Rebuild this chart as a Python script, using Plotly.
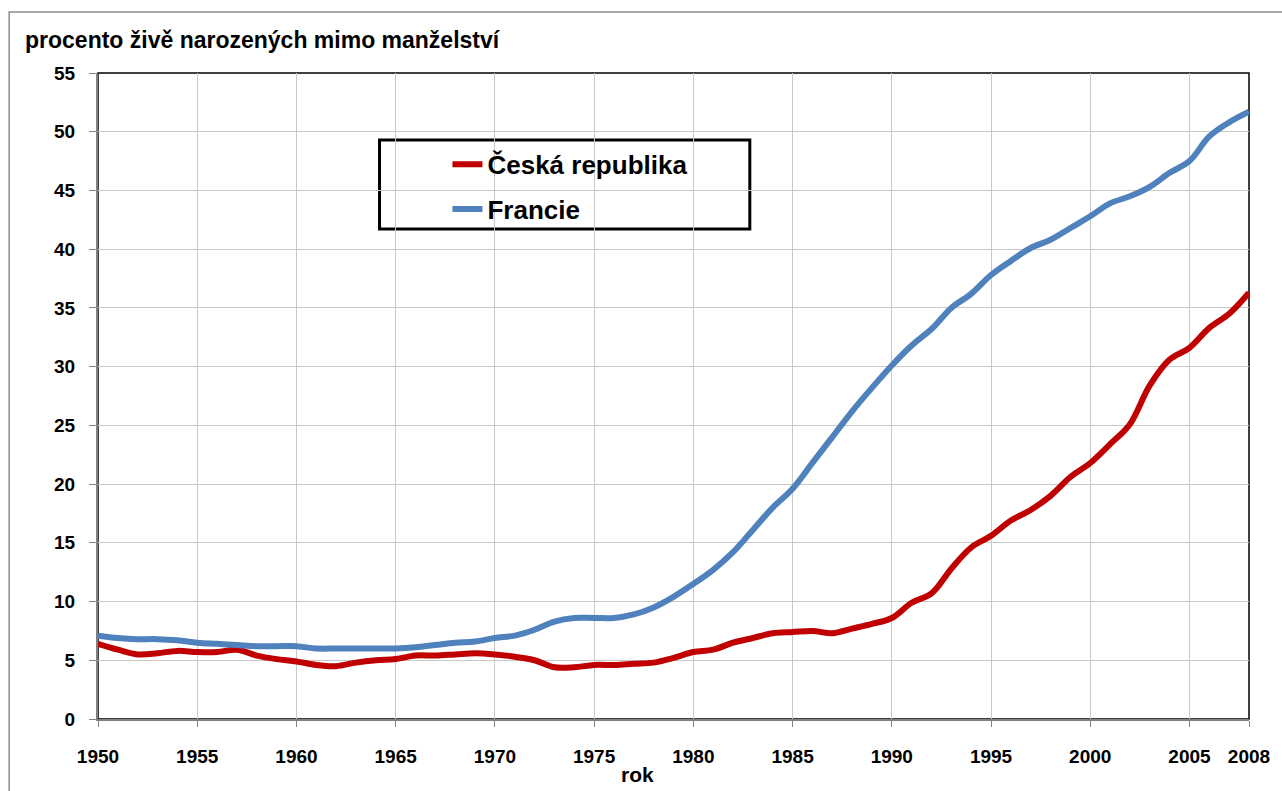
import plotly.graph_objects as go

font_family = "Arial, Liberation Sans, sans-serif"

roky = list(range(1950, 2009))
cesko = [6.4, 5.9, 5.5, 5.6, 5.8, 5.7, 5.7, 5.9, 5.4, 5.1,
         4.9, 4.6, 4.5, 4.8, 5.0, 5.1, 5.4, 5.4, 5.5, 5.6,
         5.5, 5.3, 5.0, 4.4, 4.4, 4.6, 4.6, 4.7, 4.8, 5.2,
         5.7, 5.9, 6.5, 6.9, 7.3, 7.4, 7.5, 7.3, 7.7, 8.1,
         8.6, 9.9, 10.7, 12.8, 14.6, 15.6, 16.9, 17.8, 19.0, 20.6,
         21.8, 23.4, 25.1, 28.4, 30.6, 31.6, 33.3, 34.5, 36.3]
francie = [7.1, 6.9, 6.8, 6.8, 6.7, 6.5, 6.4, 6.3, 6.2, 6.2,
           6.2, 6.0, 6.0, 6.0, 6.0, 6.0, 6.1, 6.3, 6.5, 6.6,
           6.9, 7.1, 7.6, 8.3, 8.6, 8.6, 8.6, 8.9, 9.5, 10.4,
           11.5, 12.7, 14.2, 16.1, 18.0, 19.6, 21.8, 24.0, 26.2, 28.2,
           30.1, 31.8, 33.2, 35.0, 36.2, 37.8, 39.0, 40.1, 40.8, 41.8,
           42.8, 43.9, 44.5, 45.3, 46.5, 47.5, 49.6, 50.8, 51.7]
x_ticks = [1950, 1955, 1960, 1965, 1970, 1975, 1980, 1985, 1990, 1995, 2000, 2005, 2008]

fig = go.Figure()
fig.add_trace(go.Scatter(x=roky, y=cesko, name="Česká republika", mode="lines",
                         line=dict(color="#C00000", width=6, shape="spline"),
                         legendgroup="cz"))
fig.add_trace(go.Scatter(x=roky, y=francie, name="Francie", mode="lines",
                         line=dict(color="#4F81BD", width=6, shape="spline"),
                         legendgroup="fr"))

axis_font = dict(family=font_family, size=19, color="black", weight="bold")
fig.update_layout(
    width=1282, height=791,
    margin=dict(l=98, r=31, t=73, b=72),
    paper_bgcolor="white", plot_bgcolor="white",
    font=dict(family=font_family, color="black"),
    title=dict(text="procento živě narozených mimo manželství",
               x=25 / 1282, xanchor="left", xref="container",
               y=1 - 40 / 791, yanchor="middle", yref="container",
               font=dict(family=font_family, size=23, color="black", weight="bold")),
    xaxis=dict(range=[1950, 2008], tickvals=x_ticks, ticktext=[str(v) for v in x_ticks],
               showgrid=True, gridcolor="#c8c8c8", gridwidth=1,
               showline=True, linecolor="#808080", linewidth=2,
               ticks="outside", ticklen=6, tickcolor="#808080",
               ticklabelstandoff=13, tickfont=axis_font, zeroline=False),
    yaxis=dict(range=[0, 55], dtick=5,
               showgrid=True, gridcolor="#c8c8c8", gridwidth=1,
               showline=True, linecolor="#808080", linewidth=2,
               ticks="outside", ticklen=7, tickcolor="#808080",
               ticklabelstandoff=10, tickfont=axis_font, zeroline=False),
    legend=dict(x=0.3036, xanchor="left", y=0.895, yanchor="top",
                bgcolor="rgba(0,0,0,0)", borderwidth=0, tracegroupgap=8,
                font=dict(family=font_family, size=26, color="black", weight="bold")),
    showlegend=True,
)

# black plot area frame
fig.add_shape(type="rect", xref="x domain", yref="y domain", x0=0, x1=1, y0=0, y1=1,
              line=dict(color="black", width=1.5), layer="below")
# legend box
fig.add_shape(type="rect", xref="x domain", yref="y domain",
              x0=0.2446, x1=0.5663, y0=0.7585, y1=0.8963,
              line=dict(color="black", width=3), fillcolor="white", layer="below")
# outer chart frame
fig.add_shape(type="rect", xref="paper", yref="paper",
              x0=-89 / 1153, x1=1.1, y0=-0.2, y1=1 + 61 / 646,
              line=dict(color="#8c8c8c", width=1.5), layer="below")

fig.add_annotation(text="rok", x=1977.2, xref="x", y=-55 / 646, yref="paper",
                   showarrow=False, yanchor="middle",
                   font=dict(family=font_family, size=21, color="black", weight="bold"))

fig.write_html("out.html", config={"displayModeBar": False},
               post_script="document.body.style.margin='0';")
